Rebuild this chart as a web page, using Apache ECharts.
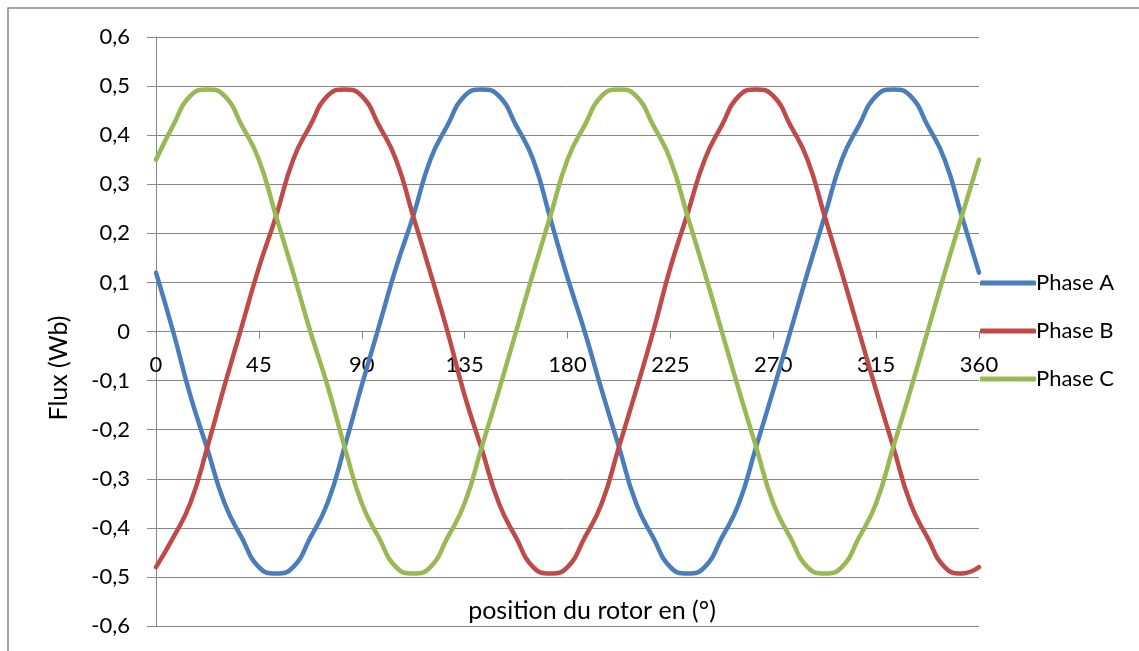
<!DOCTYPE html>
<html>
<head>
<meta charset="utf-8">
<title>Flux par phase</title>
<script src="https://cdn.jsdelivr.net/npm/echarts@6/dist/echarts.min.js"></script>
<style>
  html, body { margin: 0; padding: 0; background: #fff; }
  #chart { width: 1139px; height: 651px; }
</style>
</head>
<body>
<div id="chart"></div>
<script>
// position du rotor (deg)
const positions = [0, 7.5, 15, 22.5, 30, 37.5, 45, 52.5, 60, 67.5, 75, 82.5, 90, 97.5, 105, 112.5,
  120, 127.5, 135, 142.5, 150, 157.5, 165, 172.5, 180, 187.5, 195, 202.5, 210, 217.5, 225, 232.5,
  240, 247.5, 255, 262.5, 270, 277.5, 285, 292.5, 300, 307.5, 315, 322.5, 330, 337.5, 345, 352.5, 360];

// flux (Wb)
const phaseA = [0.12, 0, -0.13, -0.24, -0.35, -0.42, -0.48, -0.493, -0.48, -0.42, -0.35, -0.235, -0.11, 0.01, 0.13, 0.235,
  0.35, 0.42, 0.48, 0.493, 0.48, 0.42, 0.35, 0.23, 0.11, 0, -0.12, -0.235, -0.35, -0.42, -0.48, -0.493,
  -0.48, -0.42, -0.35, -0.235, -0.12, 0, 0.12, 0.235, 0.35, 0.42, 0.48, 0.493, 0.48, 0.42, 0.35, 0.235, 0.12];
const phaseB = [-0.48, -0.42, -0.35, -0.235, -0.11, 0.01, 0.13, 0.235, 0.35, 0.42, 0.48, 0.493, 0.48, 0.42, 0.35, 0.235,
  0.12, 0, -0.13, -0.24, -0.35, -0.42, -0.48, -0.493, -0.48, -0.42, -0.35, -0.235, -0.12, 0, 0.13, 0.24,
  0.35, 0.42, 0.48, 0.493, 0.48, 0.42, 0.35, 0.235, 0.12, 0, -0.12, -0.235, -0.35, -0.42, -0.48, -0.493, -0.48];
const phaseC = [0.35, 0.42, 0.48, 0.493, 0.48, 0.42, 0.35, 0.235, 0.12, 0, -0.11, -0.235, -0.35, -0.42, -0.48, -0.493,
  -0.48, -0.42, -0.35, -0.235, -0.12, 0, 0.12, 0.235, 0.35, 0.42, 0.48, 0.493, 0.48, 0.42, 0.35, 0.235,
  0.12, 0, -0.12, -0.235, -0.35, -0.42, -0.48, -0.493, -0.48, -0.42, -0.35, -0.235, -0.12, 0, 0.12, 0.235, 0.35];

const seriesNames = ['Phase A', 'Phase B', 'Phase C'];
const colors = ['#4A7EBB', '#BE4B48', '#98B954'];

// y tick labels, from -0.6 to 0.6
const yTickLabels = ['-0,6', '-0,5', '-0,4', '-0,3', '-0,2', '-0,1', '0',
  '0,1', '0,2', '0,3', '0,4', '0,5', '0,6'];

const FONT = 'Lato, "Liberation Sans", sans-serif';
const GRID_COLOR = '#868686';

// plot box, in px
const GRID_TOP = 37;
const GRID_BOTTOM = 25;
const PLOT_H = 651 - GRID_TOP - GRID_BOTTOM;

function toPairs(ys) {
  return positions.map((x, i) => [x, ys[i]]);
}

const myChart = echarts.init(document.getElementById('chart'));

const option = {
  animation: false,
  backgroundColor: '#fff',
  color: colors,
  grid: {
    left: 156, right: 160, top: GRID_TOP, bottom: GRID_BOTTOM,
    containLabel: false, outerBoundsMode: 'none'
  },
  legend: {
    orient: 'vertical',
    left: 975,
    top: 267,
    itemGap: 26,
    itemWidth: 56,
    itemHeight: 5,
    icon: 'roundRect',
    data: seriesNames,
    textStyle: { fontFamily: FONT, fontSize: 22, color: '#000', padding: [0, 0, 0, -5] }
  },
  xAxis: {
    type: 'value',
    min: 0,
    max: 360,
    interval: 45,
    // axis sits on the zero line (middle of the -0.6..0.6 range)
    offset: -PLOT_H / 2,
    axisLine: { onZero: false, lineStyle: { color: GRID_COLOR, width: 1 } },
    axisTick: { show: true, length: 7, lineStyle: { color: GRID_COLOR } },
    axisLabel: { margin: 22, fontFamily: FONT, fontSize: 22, color: '#000' },
    splitLine: { show: false }
  },
  yAxis: {
    type: 'value',
    min: -0.6,
    max: 0.6,
    interval: 0.1,
    axisLine: { show: true, lineStyle: { color: GRID_COLOR, width: 1 } },
    axisTick: { show: true, length: 9, lineStyle: { color: GRID_COLOR } },
    axisLabel: {
      margin: 26,
      fontFamily: FONT,
      fontSize: 22,
      color: '#000',
      formatter: function (v) {
        return yTickLabels[Math.round((v + 0.6) * 10)];
      }
    },
    splitLine: { show: true, lineStyle: { color: GRID_COLOR, width: 1 } }
  },
  graphic: [
    {
      type: 'rect',
      silent: true,
      shape: { x: 8, y: 8, width: 1200, height: 700 },
      style: { fill: 'none', stroke: GRID_COLOR, lineWidth: 1.5 }
    },
    {
      type: 'text',
      x: 592,
      y: 611,
      style: {
        text: 'position du rotor en (°)',
        font: '25px ' + FONT,
        fill: '#000',
        textAlign: 'center',
        textVerticalAlign: 'middle'
      }
    },
    {
      type: 'text',
      x: 59,
      y: 368,
      rotation: Math.PI / 2,
      style: {
        text: 'Flux (Wb)',
        font: '25px ' + FONT,
        fill: '#000',
        textAlign: 'center',
        textVerticalAlign: 'middle'
      }
    }
  ],
  series: [phaseA, phaseB, phaseC].map((ys, i) => ({
    name: seriesNames[i],
    type: 'line',
    smooth: 0.5,
    symbol: 'none',
    data: toPairs(ys),
    lineStyle: { width: 4.5, color: colors[i], cap: 'round', join: 'round' },
    itemStyle: { color: colors[i] }
  }))
};

myChart.setOption(option);

window.addEventListener('resize', () => {
  myChart.resize();
});
</script>
</body>
</html>
